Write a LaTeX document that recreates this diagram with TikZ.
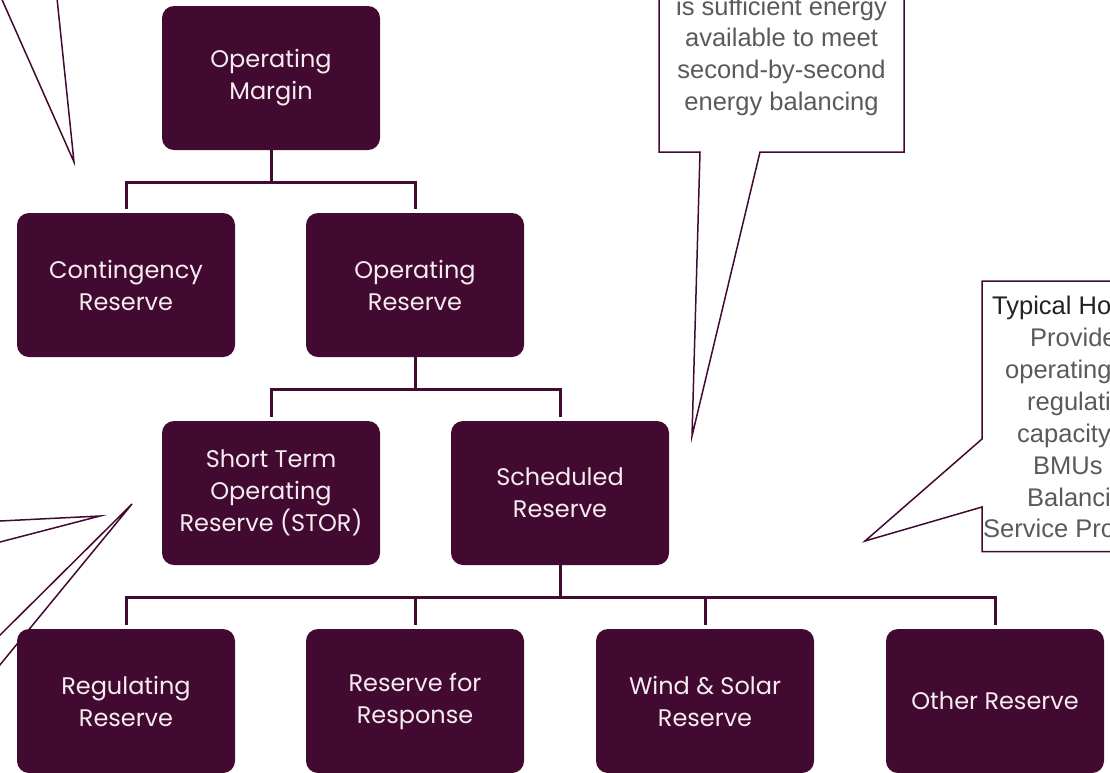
\documentclass[tikz,border=0pt]{standalone}
\usepackage{fontspec}
\newfontfamily\popfont{Poppins}
\newfontfamily\calfont{Liberation Sans}
\definecolor{plum}{HTML}{430A31}
\definecolor{boxtext}{HTML}{F4ECF0}
\definecolor{calgray}{HTML}{5A5A5A}
\definecolor{caldark}{HTML}{222222}
\begin{document}
\begin{tikzpicture}[x=1pt,y=-1pt,
  rbox/.style={rectangle,rounded corners=12pt,minimum width=218pt,minimum height=144pt,
    fill=plum,text=boxtext,align=center,inner sep=0pt,
    font=\popfont\fontsize{24}{32}\selectfont},
  conn/.style={draw=plum,line width=3pt},
  callout/.style={draw=plum,line width=1.5pt,fill=white,line join=miter},
  ptr/.style={draw=plum,line width=1.5pt},
  caltext/.style={text=calgray,font=\calfont\fontsize{25.5}{31.7}\selectfont,inner sep=0pt},
  calline/.style={text=calgray,font=\calfont\fontsize{25.5}{31.7}\selectfont,inner sep=0pt,anchor=base west}]
\useasboundingbox (0,0) rectangle (1110,772);
\clip (0,0) rectangle (1110,772);
\fill[white] (0,0) rectangle (1110,772);
% boxes
\node[rbox] (om) at (271,78) {Operating\\Margin};
\node[rbox] (cr) at (126,285) {Contingency\\Reserve};
\node[rbox] (or) at (415,285) {Operating\\Reserve};
\node[rbox] (stor) at (271,493) {Short Term\\Operating\\Reserve (STOR)};
\node[rbox] (sr) at (560,493) {Scheduled\\Reserve};
\node[rbox] (rr) at (126,701) {Regulating\\Reserve};
\node[rbox] (rfr) at (415,701) {Reserve for\\Response};
\node[rbox] (ws) at (705,701) {Wind \& Solar\\Reserve};
\node[rbox] (oth) at (995,701) {Other Reserve};
% connectors
\draw[conn] (om.south) -- ++(0,32) coordinate (j1);
\draw[conn] ([yshift=4pt]cr.north) |- (j1) -| ([yshift=4pt]or.north);
\draw[conn] (or.south) -- ++(0,32) coordinate (j2);
\draw[conn] ([yshift=4pt]stor.north) |- (j2) -| ([yshift=4pt]sr.north);
\draw[conn] (sr.south) -- ++(0,32) coordinate (j3);
\draw[conn] ([yshift=4pt]rr.north) |- (j3) -| ([yshift=4pt]oth.north);
\draw[conn] (j3 -| rfr.north) -- ([yshift=4pt]rfr.north);
\draw[conn] (j3 -| ws.north) -- ([yshift=4pt]ws.north);
% top-left pointer
\coordinate (tl) at (74,162);
\draw[ptr] (-20,-50) -- (tl) -- (52,-50);
% left pointers
\coordinate (lp1) at (100,516);
\coordinate (lp2) at (132,504);
\draw[ptr] (-10,521.5) -- (lp1) -- (-10,544.6);
\draw[ptr] (-10,645) -- (lp2) -- (-10,677);
% top middle callout
\coordinate (tm) at (692,436);
\draw[callout] (659,-50) -- (659,152) -- (700,152) -- (tm) -- (760,152) -- (904,152) -- (904,-50) -- cycle;
\node[caltext,align=center] (tmtext) at (781.5,56) {is sufficient energy\\available to meet\\second-by-second\\energy balancing};
% right callout
\coordinate (rc) at (865,541);
\draw[callout] (1200,281) -- (982,281) -- (982,439) -- (rc) -- (982,507) -- (982,551.5) -- (1200,551.5);
\node[calline,text=caldark] (r1) at (992,314) {Typical Ho};
\node[calline] (r2) at (1030,346) {Provide};
\node[calline] (r3) at (1005,378) {operating};
\node[calline] (r4) at (1027,410) {regulati};
\node[calline] (r5) at (1017,442) {capacity};
\node[calline] (r6) at (1033,474) {BMUs};
\node[calline] (r7) at (1027,506) {Balanci};
\node[calline] (r8) at (983,537) {Service Pro};
\end{tikzpicture}
\end{document}
